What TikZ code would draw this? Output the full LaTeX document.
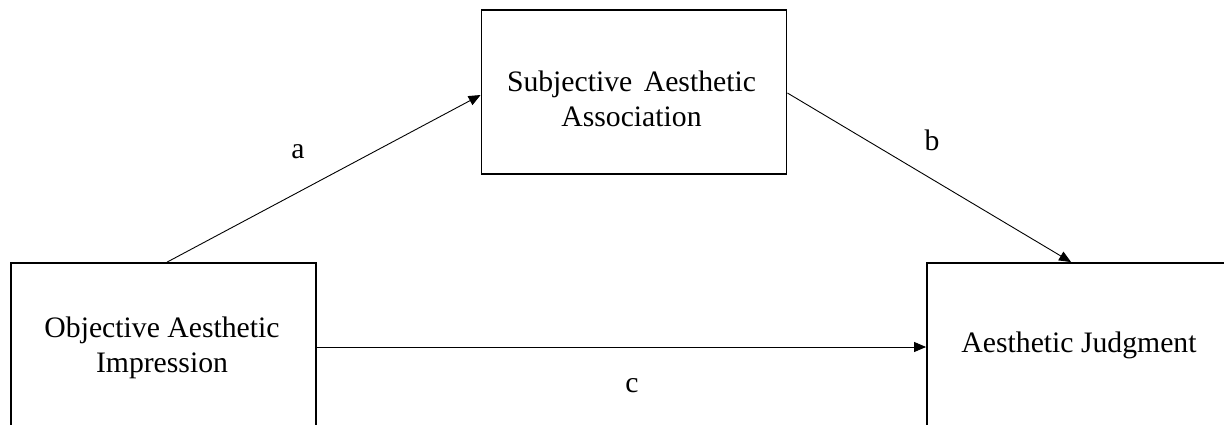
\documentclass[tikz,border=0pt]{standalone}
\usepackage{fontspec}
\setmainfont{Liberation Serif}
\usetikzlibrary{arrows.meta}
\tikzset{
  box/.style={draw=black, line width=1.8pt, minimum width=305pt, minimum height=164pt, inner sep=0pt, fill=none},
  lab/.style={align=center, inner sep=0pt, font=\fontsize{29.7}{35}\selectfont},
  conn/.style={line width=0.9pt, -{Triangle[length=12pt,width=10pt]}},
  letter/.style={inner sep=0pt, font=\fontsize{29.7}{35}\selectfont}
}
\begin{document}
\begin{tikzpicture}[x=1pt,y=1pt]
\useasboundingbox[fill=white] (0,0) rectangle (1224,-425);
\clip (0,0) rectangle (1224,-425);
% boxes
\node[box] (obj) at (163.5,-345) {};
\node[box] (sub) at (634,-92) {};
\node[box] (jud) at (1079.5,-345) {};
% texts
\node[lab] (objt) at (162,-348) {Objective Aesthetic\\Impression};
\node[lab] (subt) at (631.5,-99) {Subjective\hspace{4pt} Aesthetic\\Association};
\node[lab] (judt) at (1079,-345) {Aesthetic Judgment};
% connector end points
\coordinate (aS) at ([xshift=157pt]obj.north west);
\coordinate (aE) at ([yshift=-3pt]sub.west);
\coordinate (bS) at ([yshift=-1pt]sub.east);
\coordinate (bE) at ([xshift=145pt]jud.north west);
\coordinate (cS) at ([yshift=-2pt]obj.east);
\coordinate (cE) at ([yshift=-2pt]jud.west);
\draw[conn] (aS) -- (aE);
\draw[conn] (bS) -- (bE);
\draw[conn] (cS) -- (cE);
% labels
\node[letter] (la) at (298,-152) {a};
\node[letter] (lb) at (932,-140) {b};
\node[letter] (lc) at (632,-386) {c};
\end{tikzpicture}
\end{document}
